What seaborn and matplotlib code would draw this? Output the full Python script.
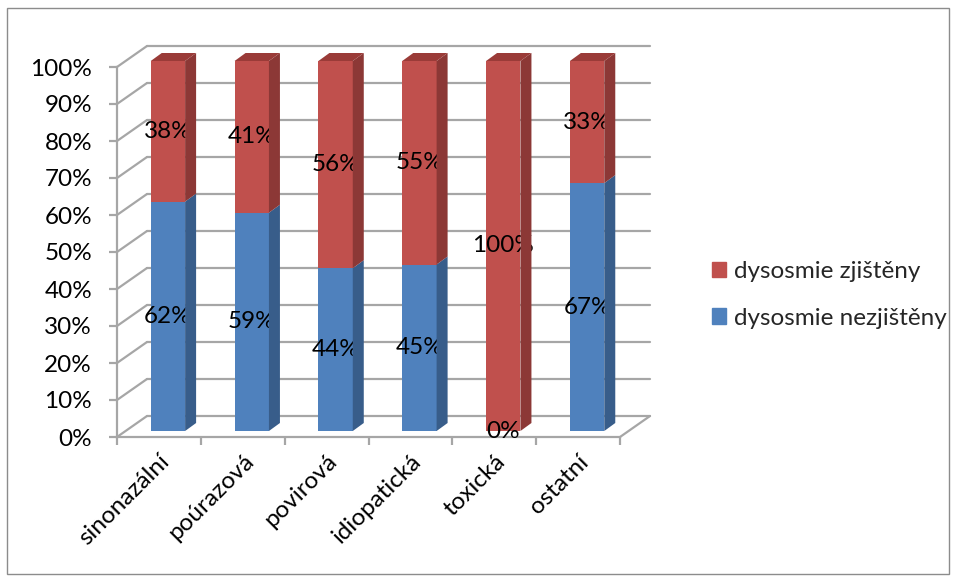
import numpy as np
import pandas as pd
import matplotlib.pyplot as plt
import seaborn as sns
from matplotlib.patches import Polygon, Rectangle, Patch
from matplotlib.lines import Line2D
from matplotlib.transforms import ScaledTranslation, IdentityTransform

# Data (podíl pacientů v %)
kategorie = ['sinonazální', 'poúrazová', 'povirová', 'idiopatická', 'toxická', 'ostatní']
nezjisteny = [62, 59, 44, 45, 0, 67]
zjisteny = [38, 41, 56, 55, 100, 33]
procenta = list(range(0, 101, 10))

df = pd.DataFrame({'kategorie': kategorie, 'nezjisteny': nezjisteny, 'zjisteny': zjisteny})
df['celkem'] = df['nezjisteny'] + df['zjisteny']

modra, modra_bok = '#4F81BD', '#385D8A'
cervena, cervena_bok = '#C0504D', '#8C3836'
mrizka = '#A6A6A6'
velikost = 17.5

sns.set_style('white')
plt.rcParams['font.family'] = ['Lato', 'DejaVu Sans']

fig = plt.figure(figsize=(9.57, 5.81), dpi=100)
ax = fig.add_axes([117 / 957, 144 / 581, 503 / 957, 370 / 581])

sirka = 0.41
sns.barplot(data=df, x='kategorie', y='celkem', color=cervena, width=sirka, saturation=1, ax=ax)
sns.barplot(data=df, x='kategorie', y='nezjisteny', color=modra, width=sirka, saturation=1, ax=ax)
ax.set_xlim(-0.5, len(kategorie) - 0.5)
ax.set_ylim(0, 100)
ax.set_xlabel('')
ax.set_ylabel('')

# posuny do hloubky (px)
hloubka = (30, 21)
predek = (9, 6)
zadek = (20, 14)


def posun(dx, dy):
    return ax.transData + ScaledTranslation(dx / 100, dy / 100, fig.dpi_scale_trans)


def bod(x, y, d):
    p = ax.transData.transform((x, y))
    return (p[0] + d[0], p[1] + d[1])


# zadní stěna a boční stěna
x0, x1 = ax.get_xlim()
for v in procenta:
    ax.plot([x0, x1], [v, v], transform=posun(*hloubka), color=mrizka, lw=1.6,
            clip_on=False, zorder=0.5)
    a, b = bod(x0, v, (0, 0)), bod(x0, v, hloubka)
    fig.add_artist(Line2D([a[0], b[0]], [a[1], b[1]], transform=IdentityTransform(),
                          color=mrizka, lw=1.6, zorder=0.5))
a, b = bod(x1, 0, (0, 0)), bod(x1, 0, hloubka)
fig.add_artist(Line2D([a[0], b[0]], [a[1], b[1]], transform=IdentityTransform(),
                      color=mrizka, lw=1.6, zorder=0.5))

# přední stěny sloupců posunout do roviny sloupců
for p in ax.patches:
    p.set_transform(posun(*predek))
    p.set_clip_on(False)
    p.set_linewidth(0)
    p.set_zorder(2)

# boky a vršky sloupců
hl = (zadek[0] - predek[0], zadek[1] - predek[1])
for i in range(len(kategorie)):
    segmenty = [(0, nezjisteny[i], modra_bok), (nezjisteny[i], nezjisteny[i] + zjisteny[i], cervena_bok)]
    for y0, y1, barva in segmenty:
        if y1 <= y0:
            continue
        A, B = bod(i + sirka / 2, y0, predek), bod(i + sirka / 2, y1, predek)
        bok = [A, B, (B[0] + hl[0], B[1] + hl[1]), (A[0] + hl[0], A[1] + hl[1])]
        fig.add_artist(Polygon(bok, closed=True, transform=IdentityTransform(),
                               facecolor=barva, lw=0, zorder=2))
    top = nezjisteny[i] + zjisteny[i]
    L, R = bod(i - sirka / 2, top, predek), bod(i + sirka / 2, top, predek)
    vrch = [L, R, (R[0] + hl[0], R[1] + hl[1]), (L[0] + hl[0], L[1] + hl[1])]
    fig.add_artist(Polygon(vrch, closed=True, transform=IdentityTransform(),
                           facecolor='#9A3B38', lw=0, zorder=2))

# popisky hodnot
for i in range(len(kategorie)):
    ax.text(i, nezjisteny[i] / 2, f'{nezjisteny[i]}%', transform=posun(*predek),
            ha='center', va='center', fontsize=velikost, color='black', zorder=5, clip_on=False)
    ax.text(i, nezjisteny[i] + zjisteny[i] / 2, f'{zjisteny[i]}%', transform=posun(*predek),
            ha='center', va='center', fontsize=velikost, color='black', zorder=5, clip_on=False)

# osy
for s in ['top', 'right']:
    ax.spines[s].set_visible(False)
for s in ['left', 'bottom']:
    ax.spines[s].set_color(mrizka)
    ax.spines[s].set_linewidth(1.6)
ax.set_yticks(procenta)
ax.set_yticklabels([f'{v}%' for v in procenta])
ax.tick_params(axis='y', length=6, width=1.6, color=mrizka, labelsize=velikost, pad=12,
               left=True, labelcolor='black')
ax.set_xticks(range(len(kategorie)))
ax.set_xticklabels(kategorie, rotation=45, ha='right', rotation_mode='anchor')
ax.tick_params(axis='x', which='major', length=0, labelsize=velikost, pad=10, labelcolor='black')
ax.set_xticks(np.arange(-0.5, len(kategorie), 1), minor=True)
ax.tick_params(axis='x', which='minor', length=6, width=1.6, color=mrizka, bottom=True)
ax.patch.set_alpha(0)

# legenda
ruka = [Patch(color=cervena), Patch(color=modra)]
fig.legend(ruka, ['dysosmie zjištěny', 'dysosmie nezjištěny'], loc='center left',
           bbox_to_anchor=(690 / 957, 1 - 295 / 581), frameon=False, fontsize=velikost,
           handlelength=0.6, handleheight=0.6, handletextpad=0.3, labelspacing=1.05)

# rámeček grafu
fig.add_artist(Rectangle((7 / 957, 7 / 581), 942 / 957, 566 / 581, transform=fig.transFigure,
                         fill=False, edgecolor='#8C8C8C', lw=1))

fig.savefig('out.png', dpi=100)
